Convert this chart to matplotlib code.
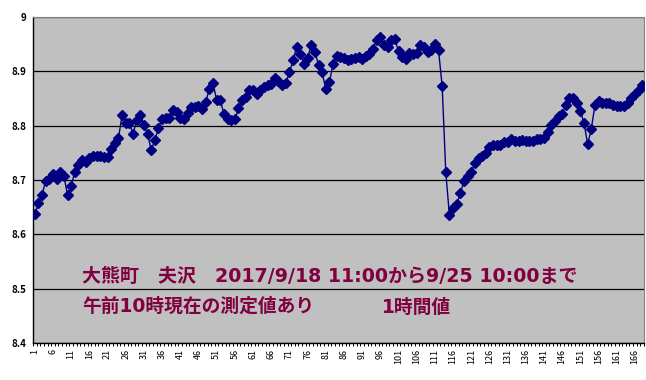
import matplotlib
matplotlib.use("Agg")
import matplotlib.pyplot as plt
import numpy as np

plt.rcParams['font.family'] = ['Noto Sans CJK JP', 'DejaVu Sans']

# hourly readings (1 .. 168)
hours = list(range(1, 169))
values = [
    8.637, 8.657, 8.673, 8.699, 8.702, 8.711, 8.701, 8.715, 8.707, 8.672,
    8.689, 8.715, 8.727, 8.736, 8.733, 8.741, 8.745, 8.744, 8.744, 8.743,
    8.743, 8.757, 8.768, 8.777,
    8.820, 8.805, 8.805, 8.785, 8.810, 8.820, 8.802, 8.785, 8.755, 8.773,
    8.796, 8.812, 8.814, 8.814, 8.829, 8.825, 8.815, 8.812, 8.823, 8.834,
    8.834, 8.836, 8.830, 8.844, 8.868, 8.878,
    8.847, 8.847, 8.821, 8.812, 8.810, 8.812,
    8.832, 8.847, 8.853, 8.865, 8.865, 8.858, 8.865, 8.871, 8.874, 8.877,
    8.887, 8.883, 8.874, 8.878, 8.898, 8.920, 8.945, 8.932, 8.914, 8.925,
    8.948, 8.936, 8.912, 8.898, 8.867, 8.880, 8.914, 8.929, 8.927,
    8.925, 8.920, 8.923, 8.925, 8.926, 8.922, 8.928, 8.932, 8.941, 8.958,
    8.963, 8.949, 8.944, 8.958, 8.959, 8.937, 8.927, 8.923, 8.933, 8.932,
    8.934, 8.948, 8.945, 8.936, 8.940, 8.950, 8.939, 8.873,
    8.714, 8.635, 8.648, 8.655, 8.676, 8.698, 8.707, 8.714, 8.732, 8.740,
    8.744, 8.750, 8.760, 8.764, 8.764, 8.764, 8.769, 8.769, 8.775, 8.771,
    8.771, 8.773, 8.771, 8.772, 8.771, 8.775, 8.776, 8.778,
    8.789, 8.801, 8.809, 8.818, 8.821, 8.838, 8.851, 8.851, 8.842, 8.827,
    8.805, 8.766, 8.793, 8.838, 8.845, 8.841, 8.841, 8.841, 8.838, 8.836,
    8.836, 8.836, 8.842, 8.850, 8.858, 8.866, 8.875,
]

x_ticks = list(range(1, 169, 5))
y_ticks = [8.4, 8.5, 8.6, 8.7, 8.8, 8.9, 9.0]
y_labels = ['8.4', '8.5', '8.6', '8.7', '8.8', '8.9', '9']

title1 = '大熊町\u3000夫沢\u30002017/9/18 11:00から9/25 10:00まで'
title2 = '午前10時現在の測定値あり'
title3 = '1時間値'

fig = plt.figure(figsize=(6.46, 3.80), dpi=100)
ax = fig.add_axes([0.0511, 0.0974, 0.9458, 0.8579])
ax.set_facecolor('#c0c0c0')

ax.plot(hours, values, color='#000080', lw=1.0, marker='D', markersize=4.8,
        markerfacecolor='#000080', markeredgecolor='#000080', zorder=3)

ax.set_xlim(0.5, 168.5)
ax.set_ylim(8.4, 9.0)
ax.set_yticks(y_ticks)
ax.set_yticklabels(y_labels, fontsize=7, fontweight='bold')
ax.set_xticks(x_ticks)
ax.set_xticklabels([str(t) for t in x_ticks], rotation=90, fontsize=6.5)
ax.set_xticks(np.arange(0.5, 169, 1), minor=True)
ax.tick_params(axis='x', which='major', length=0, pad=4)
ax.tick_params(axis='x', which='minor', length=2, width=0.7, color='black')
ax.tick_params(axis='y', length=0, pad=5)

ax.grid(axis='y', color='black', lw=0.9)
ax.set_axisbelow(True)
for s in ['top', 'right']:
    ax.spines[s].set_color('#808080')
for s in ['left', 'bottom']:
    ax.spines[s].set_color('black')
    ax.spines[s].set_linewidth(1.0)

# wider latin digits like the original, CJK from Noto
tc = '#800040'
tfam = ['DejaVu Sans', 'Noto Sans CJK JP']
fig.text(0.127, 0.272, title1, color=tc, fontsize=13.7, fontweight='bold',
         va='center', family=tfam)
fig.text(0.127, 0.195, title2, color=tc, fontsize=13.5, fontweight='bold',
         va='center', family=tfam)
fig.text(0.591, 0.192, title3, color=tc, fontsize=13.5, fontweight='bold',
         va='center', family=tfam)

fig.savefig('out.png', dpi=100)
